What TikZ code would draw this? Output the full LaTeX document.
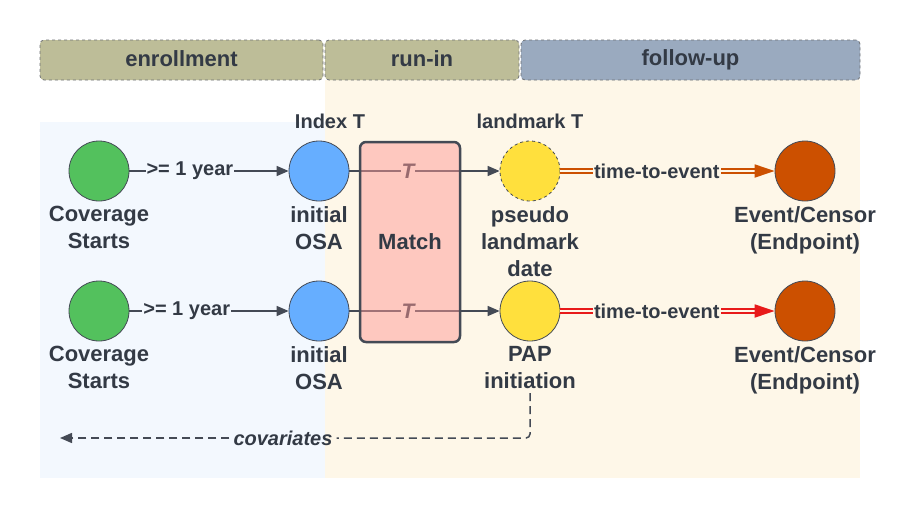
\documentclass[tikz,border=0pt]{standalone}
\usepackage{fontspec}
\setmainfont{Liberation Sans}
\usetikzlibrary{arrows.meta, positioning}

\definecolor{txt}{HTML}{333A45}
\definecolor{edge}{HTML}{444A55}
\definecolor{bluebg}{HTML}{F3F8FE}
\definecolor{cream}{HTML}{FEF7E8}
\definecolor{olive}{HTML}{BDBD98}
\definecolor{slate}{HTML}{9AAABF}
\definecolor{phaseedge}{HTML}{6E7175}
\definecolor{covgreen}{HTML}{53C15D}
\definecolor{osablue}{HTML}{66AEFF}
\definecolor{lmyellow}{HTML}{FFE03D}
\definecolor{evorange}{HTML}{CC5000}
\definecolor{ttered}{HTML}{E81A1A}
\definecolor{matchpink}{HTML}{FF9B98}

\begin{document}
\begin{tikzpicture}[x=1pt, y=-1pt, node distance=3pt, text=txt,
    font=\bfseries\fontsize{20}{27}\selectfont,
    phase/.style={draw=phaseedge, dashed, line width=0.8pt, rounded corners=4pt, minimum height=40pt, inner sep=0pt, font=\bfseries\fontsize{22}{25}\selectfont},
    evt/.style={circle, draw=edge, line width=0.8pt, minimum size=60pt, inner sep=0pt},
    lbl/.style={align=center, inner sep=2pt, font=\bfseries\fontsize{22}{27}\selectfont},
    tag/.style={inner sep=1pt},
    link/.style={draw=edge, line width=1.5pt, -{Triangle[length=12pt, width=10pt]}},
    tte/.style={line width=1.8pt, double=cream, double distance=1.6pt, -{Triangle[length=20pt, width=13pt]}},
    covar/.style={draw=edge, line width=1.5pt, dash pattern=on 8pt off 5pt, rounded corners=4pt}]
    \useasboundingbox (0,0) rectangle (900,520);

    % study periods
    \fill[bluebg] (40,122) rectangle (325,478);
    \fill[cream] (325,80) rectangle (860,478);
    \node[phase, fill=olive, minimum width=283pt] (enroll) at (181.5,60) {\raisebox{2pt}{enrollment}};
    \node[phase, fill=olive, minimum width=194pt] (runin) at (422,60) {\raisebox{2pt}{run-in}};
    \node[phase, fill=slate, minimum width=339pt] (follow) at (690.5,60) {\raisebox{2pt}{follow-up}};

    % first row: pseudo landmark
    \node[evt, fill=covgreen] (cs1) at (99,171) {};
    \node[evt, fill=osablue] (osa1) at (319,171) {};
    \node[evt, fill=lmyellow, dashed] (lm1) at (530,171) {};
    \node[evt, fill=evorange] (ev1) at (805,171) {};
    \node[lbl, below=of cs1] (cs1l) {Coverage\\Starts};
    \node[lbl, below=of osa1] (osa1l) {initial\\OSA};
    \node[lbl, below=of lm1] (lm1l) {pseudo\\landmark\\date};
    \node[lbl, below=of ev1] (ev1l) {Event/Censor\\(Endpoint)};
    \node[lbl, above=10pt of osa1, xshift=11pt, font=\bfseries\fontsize{20}{24}\selectfont] (idx) {Index T};
    \node[lbl, above=10pt of lm1, font=\bfseries\fontsize{20}{24}\selectfont] (lmt) {landmark T};

    % second row: PAP initiation
    \node[evt, fill=covgreen] (cs2) at (99,311) {};
    \node[evt, fill=osablue] (osa2) at (319,311) {};
    \node[evt, fill=lmyellow] (pap2) at (530,311) {};
    \node[evt, fill=evorange] (ev2) at (805,311) {};
    \node[lbl, below=of cs2] (cs2l) {Coverage\\Starts};
    \node[lbl, below=of osa2] (osa2l) {initial\\OSA};
    \node[lbl, below=of pap2] (pap2l) {PAP\\initiation};
    \node[lbl, below=of ev2] (ev2l) {Event/Censor\\(Endpoint)};

    \draw[link] (cs1) -- node[tag, pos=0.38, fill=bluebg] {>= 1 year} (osa1);
    \draw[link] (cs2) -- node[tag, pos=0.36, fill=bluebg] {>= 1 year} (osa2);
    \draw[link] (osa1) -- node[tag, pos=0.39, fill=cream, font=\bfseries\itshape\fontsize{21}{24}\selectfont] {T} (lm1);
    \draw[link] (osa2) -- node[tag, pos=0.39, fill=cream, font=\bfseries\itshape\fontsize{21}{24}\selectfont] {T} (pap2);
    \draw[tte, draw=evorange] (lm1) -- node[tag, pos=0.45, fill=cream] {time-to-event} (ev1);
    \draw[tte, draw=ttered] (pap2) -- node[tag, pos=0.45, fill=cream] {time-to-event} (ev2);

    % matching window
    \node[draw=edge, line width=2.5pt, rounded corners=6pt, fill=matchpink, fill opacity=0.5, text opacity=1,
          minimum width=100pt, minimum height=200pt, font=\bfseries\fontsize{22}{25}\selectfont] (match) at (410,242) {Match};

    % covariates
    \node[tag, inner xsep=4pt, font=\bfseries\itshape\fontsize{20}{24}\selectfont] (cov) at (283,438) {covariates};
    \coordinate (covend) at (60,438);
    \draw[covar] ([yshift=-2pt]pap2l.south) |- (cov.east);
    \draw[covar, -{Triangle[length=12pt, width=10pt]}] (cov.west) -- (covend);
\end{tikzpicture}
\end{document}
